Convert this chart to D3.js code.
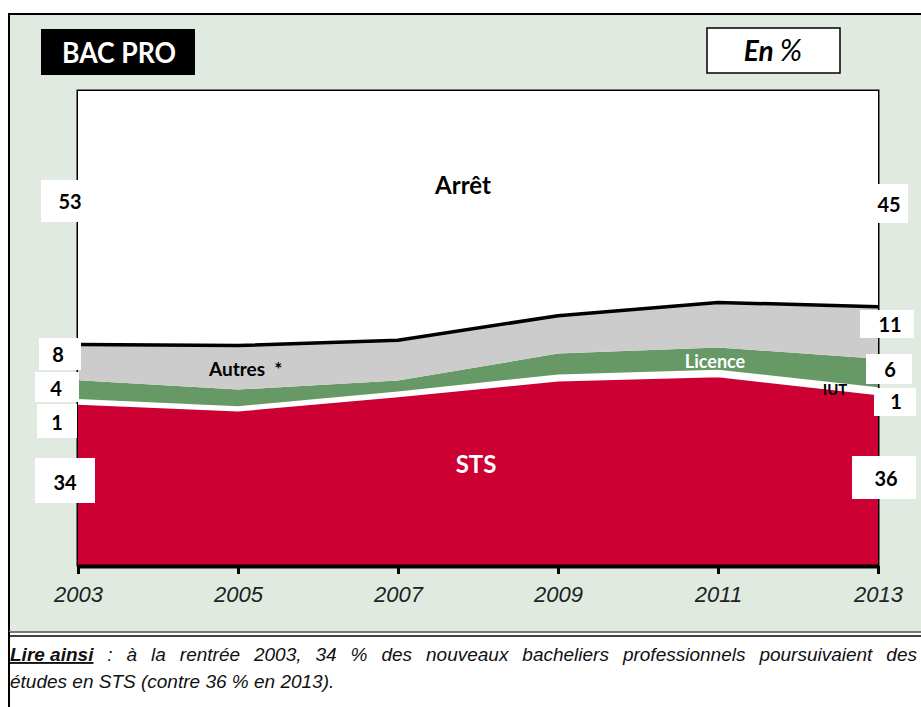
<!DOCTYPE html>
<html>
<head>
<meta charset="utf-8">
<script src="https://cdn.jsdelivr.net/npm/d3@7"></script>
<style>
  body { margin: 0; background: #fff; }
  svg { display: block; font-family: "Lato", "Liberation Sans", sans-serif; }
  .axis .domain { stroke: #000; stroke-width: 4px; }
  .axis .tick line { stroke: #000; stroke-width: 3px; }
  .axis .tick text { font-family: "Liberation Sans", sans-serif; font-style: italic; font-size: 22px; fill: #222; }
  .caption { font-family: "Liberation Sans", sans-serif; font-style: italic; font-size: 19px; fill: #111; }
</style>
</head>
<body>
<div id="chart"></div>
<script>
// **************************
// Data (en %)
// **************************
const years = [2003, 2005, 2007, 2009, 2011, 2013]
const sts = [34, 32.6, 35.6, 38.9, 39.8, 36]
const iut = [1, 0.9, 1, 1.3, 1.4, 1.5]
const licence = [4, 3.5, 2.3, 4.4, 4.7, 6]
const autres = [7.5, 9.3, 8.5, 8, 9.5, 11]
const arret = [53.5, 53.7, 52.6, 47.4, 44.6, 45.5]

const keys = ["sts", "iut", "licence", "autres", "arret"]
const leftValues = ["53", "8", "4", "1", "34"]
const rightValues = ["45", "11", "6", "1", "36"]

const colors = {
  sts: "#cc0033",
  iut: "#ffffff",
  licence: "#669966",
  autres: "#cccccc",
  arret: "#ffffff"
}

const table = years.map((y, i) => ({
  year: y, sts: sts[i], iut: iut[i], licence: licence[i], autres: autres[i], arret: arret[i]
}))

const width = 921
const height = 707
const plot = { left: 78, right: 878, top: 91, bottom: 565 }

const svg = d3.select("#chart").append("svg")
    .attr("width", width)
    .attr("height", height)

// Panel background
svg.append("rect")
    .attr("x", 9).attr("y", 14)
    .attr("width", 930).attr("height", 618)
    .attr("fill", "#e1eae1")
    .attr("stroke", "#000")
    .attr("stroke-width", 2)

svg.append("line")
    .attr("x1", 9).attr("x2", 921).attr("y1", 632).attr("y2", 632)
    .attr("stroke", "#777").attr("stroke-width", 2)
svg.append("line")
    .attr("x1", 9).attr("x2", 921).attr("y1", 636).attr("y2", 636)
    .attr("stroke", "#000").attr("stroke-width", 1.5)
svg.append("line")
    .attr("x1", 9).attr("x2", 9).attr("y1", 632).attr("y2", 707)
    .attr("stroke", "#000").attr("stroke-width", 2)

// Title boxes
svg.append("rect")
    .attr("x", 41).attr("y", 29).attr("width", 154).attr("height", 46)
    .attr("fill", "#000")
svg.append("text")
    .attr("x", 62).attr("y", 63)
    .attr("fill", "#fff")
    .attr("font-weight", "bold")
    .attr("font-size", 29)
    .attr("textLength", 114)
    .attr("lengthAdjust", "spacingAndGlyphs")
    .text("BAC PRO")

svg.append("rect")
    .attr("x", 707).attr("y", 28).attr("width", 133).attr("height", 45)
    .attr("fill", "#fff").attr("stroke", "#000").attr("stroke-width", 1.5)
const enText = svg.append("text")
    .attr("x", 773).attr("y", 61)
    .attr("text-anchor", "middle")
    .attr("font-size", 28)
    .attr("font-style", "italic")
enText.append("tspan").attr("font-weight", "bold").text("En ")
enText.append("tspan").attr("font-size", 30).text("%")

// Scales
const x = d3.scaleLinear()
    .domain(d3.extent(years))
    .range([plot.left, plot.right])
const y = d3.scaleLinear()
    .domain([0, 100])
    .range([plot.bottom, plot.top])

// Plot frame
svg.append("rect")
    .attr("x", plot.left).attr("y", plot.top)
    .attr("width", plot.right - plot.left).attr("height", plot.bottom - plot.top)
    .attr("fill", "#fff")
    .attr("stroke", "#000")
    .attr("stroke-width", 3)

const series = d3.stack().keys(keys)(table)

const area = d3.area()
    .x(d => x(d.data.year))
    .y0(d => y(d[0]))
    .y1(d => y(d[1]))

svg.append("g")
  .selectAll("path")
  .data(series)
  .join("path")
    .attr("fill", d => colors[d.key])
    .attr("d", area)

const topLine = d3.line()
    .x(d => x(d.data.year))
    .y(d => y(d[1]))

// White edge on top of STS
svg.append("path")
    .attr("d", topLine(series[0]))
    .attr("fill", "none")
    .attr("stroke", "#fff")
    .attr("stroke-width", 2)

// Black line between Autres and Arrêt
svg.append("path")
    .attr("d", topLine(series[3]))
    .attr("fill", "none")
    .attr("stroke", "#000")
    .attr("stroke-width", 3.5)

// Axis
const xAxis = d3.axisBottom(x)
    .tickValues(years)
    .tickFormat(d3.format("d"))
    .tickSize(8)
    .tickSizeOuter(0)
    .tickPadding(12)

svg.append("g")
    .attr("class", "axis")
    .attr("transform", `translate(0, ${plot.bottom + 1})`)
    .call(xAxis)

// Layer labels
const layerLabels = [
  { text: "Arrêt", x: 463, y: 194, size: 24, fill: "#000", anchor: "middle" },
  { text: "Autres  *", x: 209, y: 376, size: 19, fill: "#000", anchor: "start" },
  { text: "Licence", x: 715, y: 368, size: 18, fill: "#fff", anchor: "middle" },
  { text: "IUT", x: 835, y: 395, size: 15, fill: "#000", anchor: "middle" },
  { text: "STS", x: 476, y: 473, size: 24, fill: "#fff", anchor: "middle" }
]
svg.append("g")
  .selectAll("text")
  .data(layerLabels)
  .join("text")
    .attr("x", d => d.x)
    .attr("y", d => d.y)
    .attr("text-anchor", d => d.anchor)
    .attr("font-size", d => d.size)
    .attr("font-weight", "bold")
    .attr("fill", d => d.fill)
    .style("white-space", "pre")
    .text(d => d.text)

// Value boxes (ordered top to bottom: arrêt, autres, licence, iut, sts)
const leftBoxes = [
  { x: 41, y: 180, w: 41, h: 42, tx: 70, ty: 209 },
  { x: 39, y: 338, w: 42, h: 32, tx: 58, ty: 362 },
  { x: 35, y: 372, w: 44, h: 30, tx: 56, ty: 396 },
  { x: 37, y: 404, w: 40, h: 34, tx: 57, ty: 430 },
  { x: 35, y: 458, w: 60, h: 45, tx: 65, ty: 490 }
]
const rightBoxes = [
  { x: 858, y: 184, w: 50, h: 39, tx: 889, ty: 212 },
  { x: 860, y: 310, w: 54, h: 28, tx: 890, ty: 332 },
  { x: 866, y: 354, w: 46, h: 30, tx: 890, ty: 377 },
  { x: 874, y: 388, w: 42, h: 28, tx: 896, ty: 409 },
  { x: 852, y: 456, w: 64, h: 43, tx: 886, ty: 486 }
]

function drawBoxes(boxes, values) {
  const g = svg.append("g")
    .selectAll("g")
    .data(boxes.map((b, i) => ({ ...b, value: values[i] })))
    .join("g")
  g.append("rect")
      .attr("x", d => d.x).attr("y", d => d.y)
      .attr("width", d => d.w).attr("height", d => d.h)
      .attr("fill", "#fff")
  g.append("text")
      .attr("x", d => d.tx).attr("y", d => d.ty)
      .attr("text-anchor", "middle")
      .attr("font-size", 20)
      .attr("font-weight", "bold")
      .text(d => d.value)
}
drawBoxes(leftBoxes, leftValues)
drawBoxes(rightBoxes, rightValues)

// **************************
// Caption: first line justified word by word
// **************************
svg.append("rect")
    .attr("x", 10).attr("y", 637).attr("width", 911).attr("height", 70)
    .attr("fill", "#fff")

const line1Words = ["à", "la", "rentrée", "2003,", "34", "%", "des", "nouveaux",
  "bacheliers", "professionnels", "poursuivaient", "des"]
const lineStart = 10
const lineEnd = 917

const words = svg.append("g")
const pieces = [{ text: "Lire ainsi", bold: true }, { text: ":" }]
  .concat(line1Words.map(w => ({ text: w })))

const nodes = pieces.map(p => {
  const t = words.append("text")
      .attr("class", "caption")
      .attr("font-weight", p.bold ? "bold" : null)
      .attr("text-decoration", p.bold ? "underline" : null)
      .text(p.text)
  return { el: t, w: t.node().getComputedTextLength() }
})
const totalW = d3.sum(nodes, n => n.w)
const gap = (lineEnd - lineStart - totalW) / (nodes.length - 1)
let cursor = lineStart
nodes.forEach(n => {
  n.el.attr("x", cursor).attr("y", 661)
  cursor += n.w + gap
})

svg.append("text")
    .attr("class", "caption")
    .attr("x", 10).attr("y", 688)
    .text("études en STS (contre 36 % en 2013).")
</script>
</body>
</html>
